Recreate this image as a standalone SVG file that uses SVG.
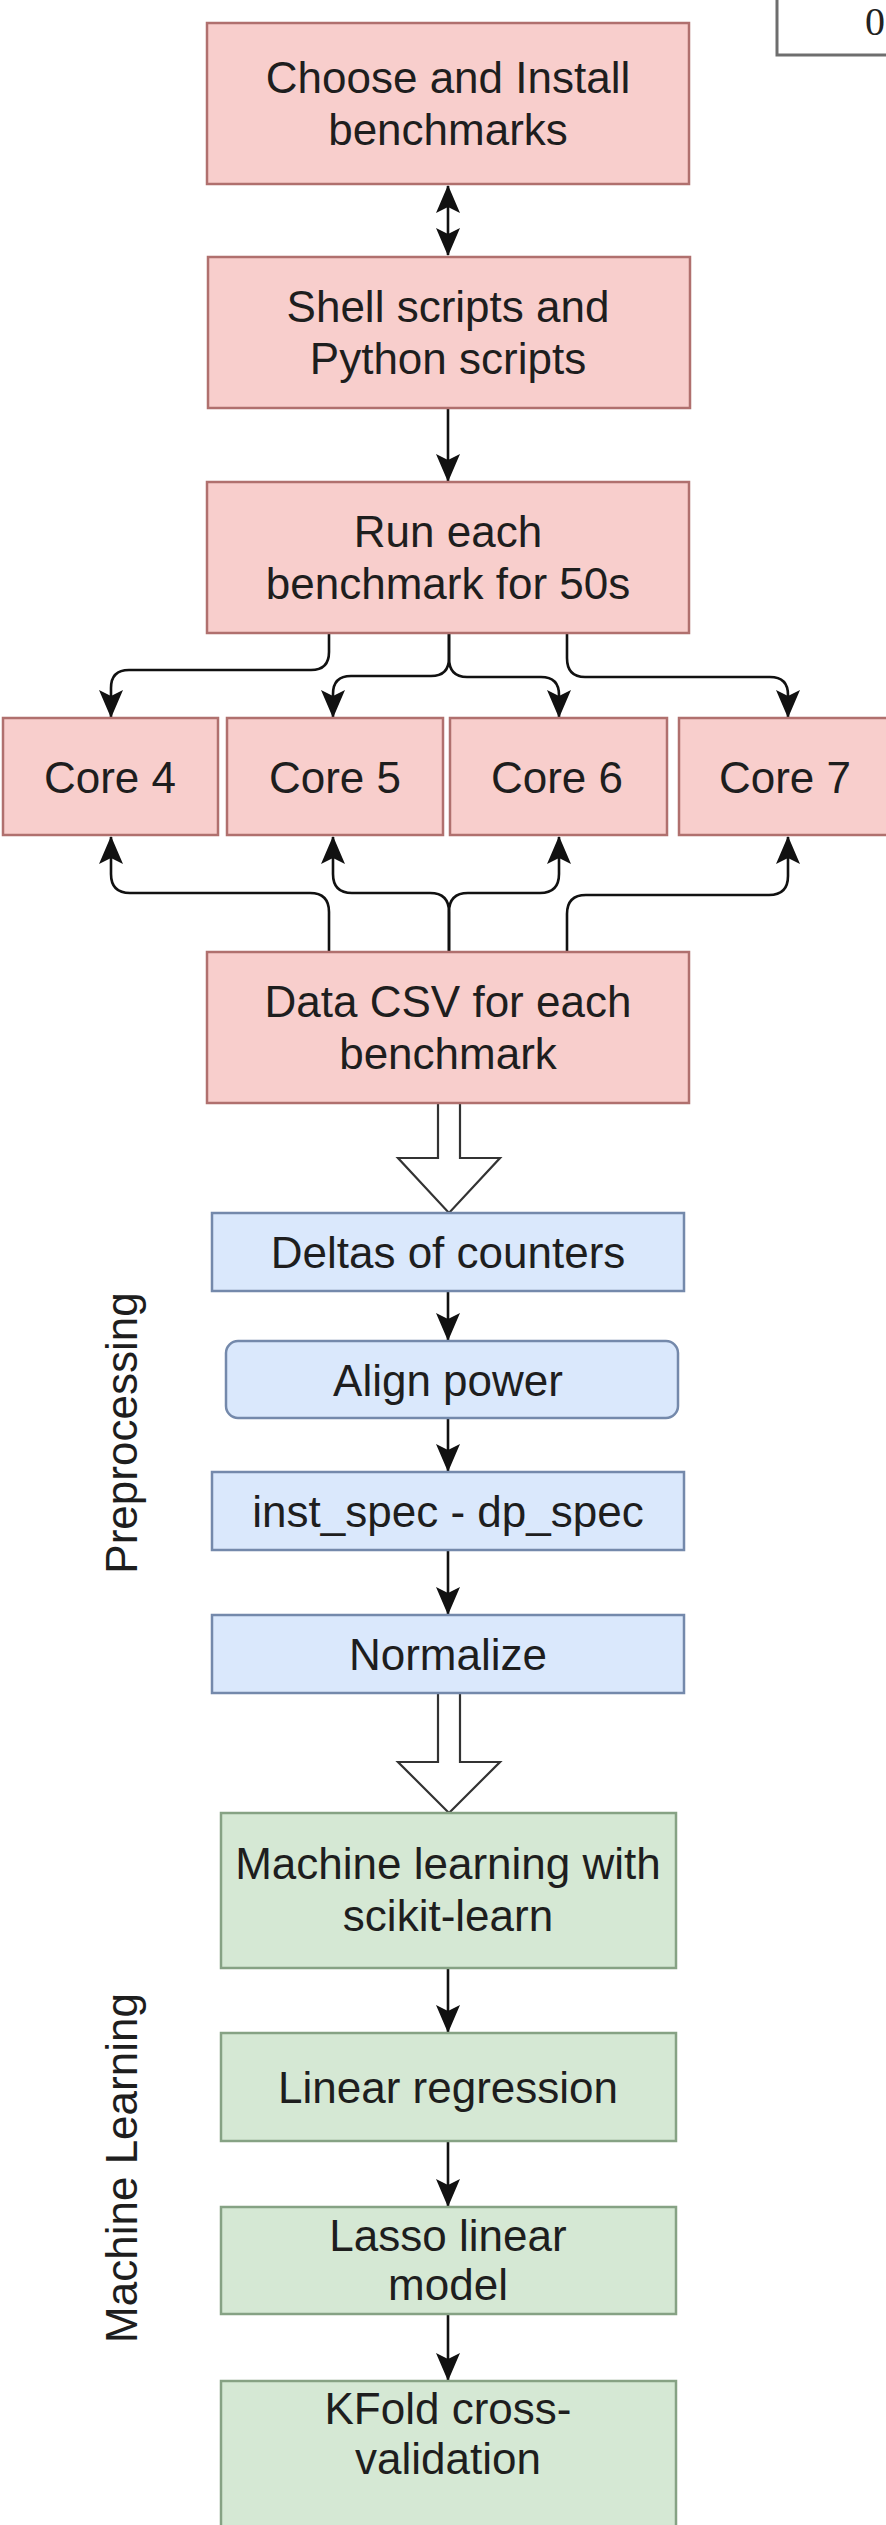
<svg xmlns="http://www.w3.org/2000/svg" width="886" height="2525" viewBox="0 0 886 2525">
  <style>
    .lbl { font-family: "Liberation Sans", Arial, Helvetica, sans-serif; font-size: 44px; fill: #1e1e1e; text-anchor: middle; }
    .side { font-family: "Liberation Sans", Arial, Helvetica, sans-serif; font-size: 44px; fill: #1e1e1e; text-anchor: middle; }
    .pink { fill: #f8cecc; stroke: #b0706e; stroke-width: 2.5; }
    .blue { fill: #dae8fc; stroke: #7489ab; stroke-width: 2.5; }
    .green { fill: #d5e8d4; stroke: #86a284; stroke-width: 2.5; }
    .edge { fill: none; stroke: #111; stroke-width: 2.6; }
    .block { fill: #ffffff; stroke: #333; stroke-width: 2.2; stroke-linejoin: miter; }
  </style>
  <defs>
    <marker id="arrow" viewBox="0 0 28 24" refX="27" refY="12" markerWidth="28" markerHeight="24" markerUnits="userSpaceOnUse" orient="auto-start-reverse">
      <path d="M0,0 L28,12 L0,24 L6,12 Z" fill="#111"/>
    </marker>
  </defs>

  <!-- page index box, top right -->
  <g id="page-index">
    <rect x="777" y="-10" width="130" height="65" fill="#ffffff" stroke="#6e6e6e" stroke-width="3"/>
    <text x="865" y="35" font-family="'Liberation Serif', 'Times New Roman', serif" font-size="40" fill="#222">0</text>
  </g>

  <!-- connectors -->
  <g id="connectors">
    <path class="edge" d="M448,186 V255" marker-start="url(#arrow)" marker-end="url(#arrow)"/>
    <path class="edge" d="M448,408 V481" marker-end="url(#arrow)"/>

    <!-- fan-out to cores -->
    <path class="edge" d="M329,633 V652 Q329,670 311,670 H129 Q111,670 111,688 V717" marker-end="url(#arrow)"/>
    <path class="edge" d="M449,633 V658 Q449,676 431,676 H351 Q333,676 333,694 V717" marker-end="url(#arrow)"/>
    <path class="edge" d="M449,633 V658 Q449,677 467,677 H541 Q559,677 559,695 V717" marker-end="url(#arrow)"/>
    <path class="edge" d="M567,633 V658 Q567,677 585,677 H770 Q788,677 788,695 V717" marker-end="url(#arrow)"/>

    <!-- fan-in from data csv -->
    <path class="edge" d="M329,952 V912 Q329,893 310,893 H130 Q111,893 111,874 V837" marker-end="url(#arrow)"/>
    <path class="edge" d="M449,952 V912 Q449,893 430,893 H352 Q333,893 333,874 V837" marker-end="url(#arrow)"/>
    <path class="edge" d="M449,952 V912 Q449,893 468,893 H540 Q559,893 559,874 V837" marker-end="url(#arrow)"/>
    <path class="edge" d="M567,952 V914 Q567,895 586,895 H769 Q788,895 788,876 V837" marker-end="url(#arrow)"/>

    <!-- hollow block arrows -->
    <path class="block" d="M438,1103 H460 V1158 H500 L449,1213 L398,1158 H438 Z"/>
    <path class="block" d="M438,1693 H460 V1762 H500 L449,1813 L398,1762 H438 Z"/>

    <path class="edge" d="M448,1291 V1340" marker-end="url(#arrow)"/>
    <path class="edge" d="M448,1418 V1471" marker-end="url(#arrow)"/>
    <path class="edge" d="M448,1550 V1614" marker-end="url(#arrow)"/>
    <path class="edge" d="M448,1968 V2032" marker-end="url(#arrow)"/>
    <path class="edge" d="M448,2141 V2206" marker-end="url(#arrow)"/>
    <path class="edge" d="M448,2314 V2380" marker-end="url(#arrow)"/>
  </g>

  <!-- stage 1: benchmark collection -->
  <g id="choose-install">
    <rect class="pink" x="207" y="23" width="482" height="161"/>
    <text class="lbl" x="448" y="93">Choose and Install</text>
    <text class="lbl" x="448" y="145">benchmarks</text>
  </g>
  <g id="scripts">
    <rect class="pink" x="208" y="257" width="482" height="151"/>
    <text class="lbl" x="448" y="322">Shell scripts and</text>
    <text class="lbl" x="448" y="374">Python scripts</text>
  </g>
  <g id="run-benchmark">
    <rect class="pink" x="207" y="482" width="482" height="151"/>
    <text class="lbl" x="448" y="547">Run each</text>
    <text class="lbl" x="448" y="599">benchmark for 50s</text>
  </g>
  <g id="core4">
    <rect class="pink" x="3" y="718" width="215" height="117"/>
    <text class="lbl" x="110" y="793">Core 4</text>
  </g>
  <g id="core5">
    <rect class="pink" x="227" y="718" width="216" height="117"/>
    <text class="lbl" x="335" y="793">Core 5</text>
  </g>
  <g id="core6">
    <rect class="pink" x="450" y="718" width="217" height="117"/>
    <text class="lbl" x="557" y="793">Core 6</text>
  </g>
  <g id="core7">
    <rect class="pink" x="679" y="718" width="216" height="117"/>
    <text class="lbl" x="785" y="793">Core 7</text>
  </g>
  <g id="data-csv">
    <rect class="pink" x="207" y="952" width="482" height="151"/>
    <text class="lbl" x="448" y="1017">Data CSV for each</text>
    <text class="lbl" x="448" y="1069">benchmark</text>
  </g>

  <!-- stage 2: preprocessing -->
  <g id="preprocessing-label">
    <text class="side" transform="translate(137,1433) rotate(-90)">Preprocessing</text>
  </g>
  <g id="deltas">
    <rect class="blue" x="212" y="1213" width="472" height="78"/>
    <text class="lbl" x="448" y="1268">Deltas of counters</text>
  </g>
  <g id="align-power">
    <rect class="blue" x="226" y="1341" width="452" height="77" rx="12" ry="12"/>
    <text class="lbl" x="448" y="1396">Align power</text>
  </g>
  <g id="inst-spec">
    <rect class="blue" x="212" y="1472" width="472" height="78"/>
    <text class="lbl" x="448" y="1527">inst_spec - dp_spec</text>
  </g>
  <g id="normalize">
    <rect class="blue" x="212" y="1615" width="472" height="78"/>
    <text class="lbl" x="448" y="1670">Normalize</text>
  </g>

  <!-- stage 3: machine learning -->
  <g id="ml-label">
    <text class="side" transform="translate(137,2168) rotate(-90)">Machine Learning</text>
  </g>
  <g id="scikit">
    <rect class="green" x="221" y="1813" width="455" height="155"/>
    <text class="lbl" x="448" y="1879">Machine learning with</text>
    <text class="lbl" x="448" y="1931">scikit-learn</text>
  </g>
  <g id="linear-regression">
    <rect class="green" x="221" y="2033" width="455" height="108"/>
    <text class="lbl" x="448" y="2103">Linear regression</text>
  </g>
  <g id="lasso">
    <rect class="green" x="221" y="2207" width="455" height="107"/>
    <text class="lbl" x="448" y="2251">Lasso linear</text>
    <text class="lbl" x="448" y="2300">model</text>
  </g>
  <g id="kfold">
    <rect class="green" x="221" y="2381" width="455" height="160"/>
    <text class="lbl" x="448" y="2424">KFold cross-</text>
    <text class="lbl" x="448" y="2474">validation</text>
  </g>
</svg>
